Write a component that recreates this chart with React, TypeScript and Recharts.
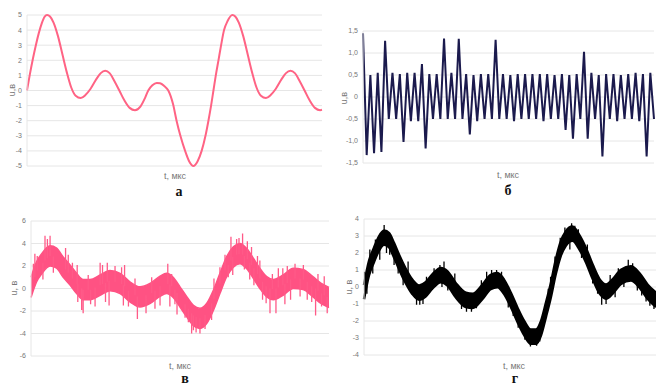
import type { ReactNode } from 'react';
import { ComposedChart, Line, Area, XAxis, YAxis, CartesianGrid } from 'recharts';

// а — clean signal, t as a fraction of the window
const aT = [
  0, 0.01, 0.02, 0.03, 0.04, 0.05, 0.06, 0.068, 0.078, 0.09, 0.105, 0.12, 0.135, 0.15, 0.165, 0.182,
  0.198, 0.215, 0.235, 0.25, 0.265, 0.28, 0.297, 0.313, 0.33, 0.348, 0.366, 0.385, 0.4, 0.411, 0.425,
  0.44, 0.451, 0.465, 0.479, 0.495, 0.507, 0.52, 0.536, 0.55, 0.564, 0.578, 0.592, 0.605, 0.615, 0.624,
  0.632, 0.64, 0.649, 0.658, 0.668, 0.68, 0.696, 0.706, 0.718, 0.733, 0.748, 0.763, 0.778, 0.793, 0.81,
  0.826, 0.843, 0.863, 0.878, 0.893, 0.908, 0.925, 0.941, 0.958, 0.976, 0.994, 1,
];
const aU = [
  0, 1.1, 2.1, 3.0, 3.8, 4.45, 4.9, 5.0, 4.9, 4.5, 3.6, 2.4, 1.2, 0.2, -0.35, -0.5,
  -0.3, 0.1, 0.75, 1.15, 1.3, 1.15, 0.6, 0, -0.65, -1.15, -1.3, -1.05, -0.5, 0, 0.35,
  0.5, 0.48, 0.3, 0, -0.9, -2.0, -3.0, -4.0, -4.7, -5.0, -4.7, -4.0, -3.0, -2.0, -1.0,
  0, 1.0, 2.0, 3.0, 4.0, 4.6, 5.0, 4.9, 4.5, 3.6, 2.4, 1.2, 0.2, -0.35, -0.5,
  -0.3, 0.1, 0.75, 1.15, 1.3, 1.15, 0.6, 0, -0.65, -1.15, -1.3, -1.28,
];

// б — sampled pulse train, one value per sample
const bU = [
  1.45, -1.32, 0.5, -1.28, 0.55, -1.25, 1.28, -0.5, 0.55, -0.5,
  0.52, -1.02, 0.55, -0.55, 0.55, -0.55, 0.75, -1.17, 0.52, -0.5,
  0.52, -0.5, 1.33, -0.5, 0.55, -0.5, 1.32, -0.5, 0.52, -0.85,
  0.5, -0.55, 0.52, -0.5, 0.52, -0.5, 1.3, -0.5, 0.52, -0.5,
  0.5, -0.55, 0.52, -0.5, 0.52, -0.5, 0.52, -0.5, 0.52, -0.55,
  0.52, -0.5, 0.5, -0.5, 0.52, -0.75, 0.5, -0.95, 0.52, -0.5,
  1.03, -0.95, 0.55, -0.5, 0.5, -1.35, 0.52, -0.5, 0.52, -0.55,
  0.5, -0.5, 0.52, -0.5, 0.55, -0.55, 0.52, -1.35, 0.55, -0.5,
];

// в — noisy signal: band centre, noise amplitude and single spikes [t, from, to]
const vT = [
  0, 0.019, 0.036, 0.064, 0.086, 0.108, 0.131, 0.153, 0.175, 0.198, 0.232, 0.265, 0.299, 0.332,
  0.366, 0.399, 0.433, 0.455, 0.477, 0.5, 0.522, 0.545, 0.567, 0.59, 0.612, 0.634, 0.656, 0.679,
  0.701, 0.724, 0.746, 0.768, 0.791, 0.813, 0.846, 0.88, 0.913, 0.946, 0.974, 1,
];
const vU = [
  0.1, 1.5, 2.2, 2.9, 2.7, 1.9, 1.2, 0.45, -0.1, -0.1, 0.3, 0.7, 0.45, -0.3,
  -0.75, -0.45, 0.2, 0.45, 0.1, -0.75, -1.6, -2.4, -2.65, -2.2, -1.05, 0.45, 1.9, 2.8,
  3.1, 2.65, 1.8, 0.9, 0.15, -0.1, 0.3, 0.9, 0.8, 0.15, -0.45, -0.8,
];
const V_NOISE = 0.9;
const vSpikes: [number, number, number][] = [
  [0.008, 0.8, 2.2], [0.013, 1.0, 3.1], [0.021, 1.6, 2.9], [0.04, 2.3, 0.8], [0.047, 2.5, 4.7],
  [0.055, 2.7, 4.4], [0.064, 2.9, 4.7], [0.075, 2.85, 1.4], [0.116, 1.7, 3.6], [0.125, 1.4, 3.0],
  [0.139, 0.9, 2.3], [0.155, 0.4, 2.1], [0.157, 0.4, -1.2], [0.17, 0, -1.9], [0.175, -0.1, -2.2],
  [0.192, -0.1, 1.2], [0.2, -0.1, -1.4], [0.215, 0.1, -1.6], [0.232, 0.3, 2.3], [0.24, 0.4, 2.1],
  [0.25, 0.5, -1.2], [0.256, 0.6, 2.3], [0.262, 0.7, -1.5], [0.282, 0.6, 2.0], [0.304, 0.4, 1.9],
  [0.31, 0.3, -1.5], [0.314, 0.2, 2.1], [0.327, -0.2, -1.6], [0.349, -0.6, 0.9], [0.357, -0.7, -2.7],
  [0.386, -0.6, -2.2], [0.405, -0.4, 1.0], [0.416, -0.2, -1.8], [0.433, 0.2, -1.5], [0.459, 0.4, 2.2],
  [0.466, 0.35, -1.6], [0.472, 0.2, 1.3], [0.483, -0.1, -1.4], [0.49, -0.4, -2.3], [0.517, -1.4, -2.6],
  [0.528, -1.8, -3.0], [0.539, -2.2, -4.0], [0.545, -2.4, -3.7], [0.554, -2.5, -3.9], [0.567, -2.65, -4.0],
  [0.584, -2.35, -3.6], [0.606, -1.3, -2.8], [0.614, -0.9, 0.9], [0.634, 0.45, 1.9], [0.651, 1.6, 3.0],
  [0.662, 2.1, 1.0], [0.671, 2.5, 4.6], [0.677, 2.8, 1.2], [0.69, 3.0, 4.4], [0.698, 3.05, 4.5],
  [0.71, 3.0, 4.9], [0.716, 2.9, 1.7], [0.726, 2.6, 4.2], [0.734, 2.3, 0.8], [0.74, 2.1, 3.7],
  [0.748, 1.8, 0.3], [0.76, 1.3, 2.9], [0.768, 0.9, 2.5], [0.777, 0.6, -1.0], [0.789, 0.2, -1.3],
  [0.802, 0, -2.2], [0.81, -0.05, 1.3], [0.822, 0, -2.2], [0.83, 0.1, 1.8], [0.845, 0.3, 1.8],
  [0.852, 0.4, -1.4], [0.86, 0.5, 2.0], [0.871, 0.8, -1.0], [0.886, 0.9, 2.2], [0.903, 0.9, -0.7],
  [0.914, 0.8, 2.1], [0.927, 0.6, -1.0], [0.942, 0.2, -1.2], [0.955, 0, -2.4], [0.963, -0.2, 1.3],
  [0.975, -0.45, -1.6], [0.984, -0.6, 1.1], [0.994, -0.75, -2.2],
];

// г — filtered signal with weaker noise
const gT = [
  0, 0.017, 0.034, 0.051, 0.069, 0.086, 0.103, 0.12, 0.143, 0.166, 0.189, 0.211, 0.234, 0.263,
  0.286, 0.314, 0.349, 0.372, 0.406, 0.434, 0.457, 0.48, 0.503, 0.526, 0.549, 0.571, 0.589, 0.606,
  0.623, 0.64, 0.657, 0.674, 0.691, 0.714, 0.737, 0.76, 0.783, 0.806, 0.829, 0.851, 0.88, 0.914,
  0.943, 0.971, 1,
];
const gU = [
  -0.3, 1.1, 1.88, 2.55, 2.9, 2.75, 2.16, 1.47, 0.65, 0, -0.33, -0.14, 0.32, 0.7,
  0.5, -0.18, -0.76, -0.82, -0.28, 0.3, 0.4, 0, -0.76, -1.65, -2.43, -2.92, -2.92, -2.43,
  -1.35, -0.18, 1.2, 2.26, 2.85, 3.14, 2.65, 1.88, 0.9, 0.06, -0.27, 0.02, 0.6, 0.8,
  0.4, -0.27, -0.76,
];
const G_NOISE = 0.42;
const gSpikes: [number, number, number][] = [
  [0.002, -0.2, 0.9], [0.01, 0.3, -0.4], [0.02, 1.2, 2.2], [0.03, 1.6, 0.8], [0.039, 2.0, 2.8],
  [0.054, 2.6, 1.6], [0.069, 2.9, 3.65], [0.077, 2.9, 2.0], [0.088, 2.75, 1.9], [0.103, 2.16, 1.3],
  [0.117, 1.6, 0.8], [0.134, 0.9, 0.1], [0.151, 0.4, 1.5], [0.18, -0.3, -1.05], [0.191, -0.33, -1.05],
  [0.202, -0.25, -1.0], [0.214, -0.1, 0.6], [0.24, 0.4, 1.1], [0.26, 0.7, 1.3], [0.267, 0.68, 0.0],
  [0.274, 0.65, 1.5], [0.287, 0.5, -0.2], [0.311, -0.1, 0.8], [0.334, -0.6, -1.3], [0.351, -0.76, -1.45],
  [0.368, -0.82, -1.45], [0.385, -0.6, -1.25], [0.402, -0.3, 0.4], [0.42, 0, 0.9], [0.437, 0.3, 1.0],
  [0.454, 0.4, 1.0], [0.471, 0.2, 0.9], [0.494, -0.5, -1.2], [0.511, -1.0, -1.7], [0.528, -1.7, -2.4],
  [0.551, -2.45, -3.1], [0.57, -2.9, -3.5], [0.591, -2.9, -3.45], [0.602, -2.6, -3.2], [0.631, -0.9, -0.1],
  [0.639, -0.3, 0.6], [0.654, 1.0, 1.8], [0.672, 2.2, 2.9], [0.688, 2.8, 3.5], [0.705, 3.05, 2.2],
  [0.711, 3.1, 3.75], [0.722, 3.0, 3.6], [0.734, 2.7, 3.4], [0.745, 2.4, 1.7], [0.765, 1.75, 2.5],
  [0.783, 0.9, 0.2], [0.8, 0.3, -0.4], [0.814, -0.1, -1.05], [0.829, -0.27, -1.0], [0.843, -0.1, 0.7],
  [0.86, 0.1, -0.6], [0.871, 0.4, 1.1], [0.89, 0.7, 0.0], [0.905, 0.8, 1.6], [0.92, 0.75, 1.4],
  [0.936, 0.5, -0.2], [0.951, 0.25, -0.5], [0.966, -0.15, -0.85], [0.979, -0.45, -1.1], [0.993, -0.7, -1.3],
];

const aTicks = [-5, -4, -3, -2, -1, 0, 1, 2, 3, 4, 5];
const bTicks = [-1.5, -1, -0.5, 0, 0.5, 1, 1.5];
const vTicks = [-6, -4, -2, 0, 2, 4, 6];
const gTicks = [-4, -3, -2, -1, 0, 1, 2, 3, 4];

const aData = aT.map((t, i) => ({ t, u: aU[i] }));
const bData = bU.map((u, i) => ({ t: i, u }));
const bandData = (ts: number[], us: number[], noise: number) =>
  ts.map((t, i) => ({ t, band: [us[i] - noise, us[i] + noise] }));
// each spike is a vertical segment, null breaks the line between them
const spikeData = (sp: [number, number, number][]) =>
  sp.flatMap(([t, from, to]) => [{ t, s: from }, { t, s: to }, { t, s: null }]);

const FONT = '"Liberation Sans", Arial, sans-serif';
const GRID = '#e6e6e6';

// 1.5 -> "1,5"
const commaFmt = (v: number) => (v === 0 ? '0' : v.toFixed(1).replace('.', ','));

interface PanelProps {
  left: number;
  top: number;
  width: number;
  height: number;
  margin: { top: number; right: number; bottom: number; left: number };
  yWidth: number;
  yTicks: number[];
  xDomain: [number, number];
  fmt?: (v: number) => string;
  children: ReactNode;
}

function Panel({ left, top, width, height, margin, yWidth, yTicks, xDomain, fmt, children }: PanelProps) {
  return (
    <div style={{ position: 'absolute', left, top }}>
      <ComposedChart width={width} height={height} margin={margin}>
        <CartesianGrid vertical={false} stroke={GRID} />
        <XAxis type="number" dataKey="t" domain={xDomain} hide allowDuplicatedCategory />
        <YAxis
          type="number"
          domain={[yTicks[0], yTicks[yTicks.length - 1]]}
          ticks={yTicks}
          interval={0}
          width={yWidth}
          tickLine={false}
          tickSize={3}
          tickMargin={2}
          axisLine={{ stroke: GRID }}
          tick={{ fontSize: 7, fill: '#777', fontFamily: FONT }}
          tickFormatter={fmt}
        />
        {children}
      </ComposedChart>
    </div>
  );
}

const textStyle = (x: number, y: number, extra: React.CSSProperties = {}): React.CSSProperties => ({
  position: 'absolute',
  left: x,
  top: y,
  transform: 'translate(-50%, -50%)',
  whiteSpace: 'nowrap',
  lineHeight: 1,
  fontFamily: FONT,
  fontSize: 9,
  color: '#777',
  ...extra,
});

const letterStyle = (x: number, y: number) =>
  textStyle(x, y, { fontFamily: '"Liberation Serif", "Times New Roman", serif', fontWeight: 700, fontSize: 14, color: '#111' });

const rotated = { transform: 'translate(-50%, -50%) rotate(-90deg)' };

export default function App() {
  return (
    <div style={{ position: 'absolute', left: 0, top: 0, width: 656, height: 387, background: '#fff', overflow: 'hidden' }}>
      <Panel left={0} top={0} width={330} height={200} margin={{ top: 15, right: 8, bottom: 34, left: 0 }}
        yWidth={27} yTicks={aTicks} xDomain={[0, 1]}>
        <Line data={aData} dataKey="u" type="monotone" stroke="#ff6384" strokeWidth={2}
          dot={false} activeDot={false} isAnimationActive={false} />
      </Panel>

      <Panel left={326} top={0} width={330} height={200} margin={{ top: 31, right: 2, bottom: 37, left: 0 }}
        yWidth={37} yTicks={bTicks} xDomain={[0, 79]} fmt={commaFmt}>
        <Line data={bData} dataKey="u" type="linear" stroke="#1b1a4d" strokeWidth={2}
          dot={false} activeDot={false} isAnimationActive={false} />
      </Panel>

      <Panel left={0} top={200} width={330} height={187} margin={{ top: 21, right: 1, bottom: 31, left: 0 }}
        yWidth={31} yTicks={vTicks} xDomain={[0, 1]}>
        <Area data={bandData(vT, vU, V_NOISE)} dataKey="band" type="monotone" fill="#ff5283" fillOpacity={1}
          stroke="#ff5283" strokeWidth={1.5} isAnimationActive={false} activeDot={false} />
        <Line data={spikeData(vSpikes)} dataKey="s" type="linear" stroke="#ff5a88" strokeWidth={1.3}
          dot={false} activeDot={false} isAnimationActive={false} />
      </Panel>

      <Panel left={326} top={200} width={330} height={187} margin={{ top: 19, right: 0, bottom: 32, left: 0 }}
        yWidth={38} yTicks={gTicks} xDomain={[0, 1]}>
        <Area data={bandData(gT, gU, G_NOISE)} dataKey="band" type="monotone" fill="#000" fillOpacity={1}
          stroke="#000" strokeWidth={2.5} isAnimationActive={false} activeDot={false} />
        <Line data={spikeData(gSpikes)} dataKey="s" type="linear" stroke="#000" strokeWidth={1.3}
          dot={false} activeDot={false} isAnimationActive={false} />
      </Panel>

      <div style={textStyle(12, 90, rotated)}>u,в</div>
      <div style={textStyle(175, 176)}>t, мкс</div>
      <div style={letterStyle(179, 192)}>а</div>

      <div style={textStyle(344, 98, rotated)}>u,в</div>
      <div style={textStyle(508, 175)}>t, мкс</div>
      <div style={letterStyle(508, 191)}>б</div>

      <div style={textStyle(14, 288, rotated)}>u, в</div>
      <div style={textStyle(180, 366)}>t, мкс</div>
      <div style={letterStyle(185, 379)}>в</div>

      <div style={textStyle(349, 287, rotated)}>u, в</div>
      <div style={textStyle(514, 366)}>t, мкс</div>
      <div style={letterStyle(515, 379)}>г</div>
    </div>
  );
}
